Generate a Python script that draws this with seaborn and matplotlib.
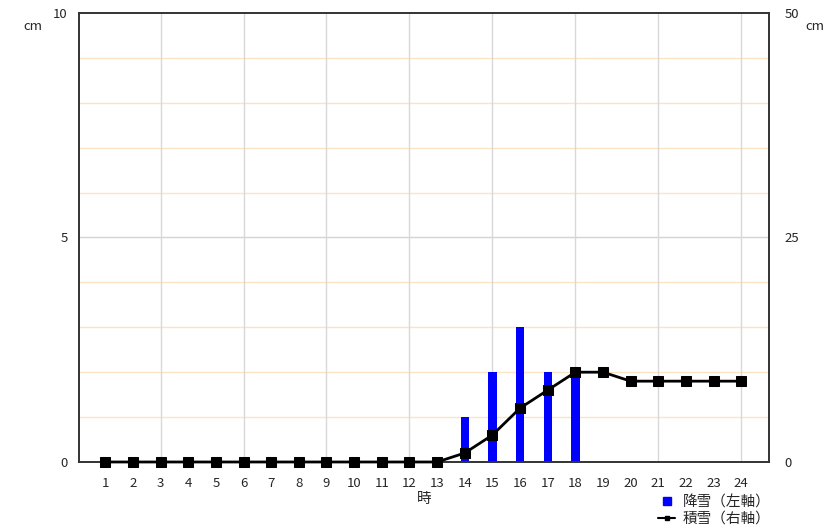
import matplotlib
matplotlib.use("Agg")
import matplotlib.pyplot as plt
import seaborn as sns
import pandas as pd
from matplotlib.lines import Line2D

sns.set_style("white")
plt.rcParams['font.family'] = ['Noto Sans CJK JP', 'DejaVu Sans']

hours = list(range(1, 25))
snowfall = [0, 0, 0, 0, 0, 0, 0, 0, 0, 0, 0, 0, 0, 1, 2, 3, 2, 2, 0, 0, 0, 0, 0, 0]
snow_depth = [0, 0, 0, 0, 0, 0, 0, 0, 0, 0, 0, 0, 0, 1, 3, 6, 8, 10, 10, 9, 9, 9, 9, 9]
left_ticks = [0, 5, 10]
right_ticks = [0, 25, 50]

df = pd.DataFrame({"hour": hours, "snowfall": snowfall, "depth": snow_depth})

fig = plt.figure(figsize=(8.34, 5.26), dpi=100)
ax = fig.add_axes([0.0947, 0.1217, 0.8273, 0.8536])

# grid
for v in range(1, 10):
    ax.axhline(v, color="#d3d3d3" if v == 5 else "#fbe3c4", lw=1, zorder=0)
for h in range(3, 25, 3):
    ax.axvline(h, color="#d8d8d8", lw=1, zorder=0)

sns.barplot(data=df, x="hour", y="snowfall", native_scale=True, color="#0000ff",
            saturation=1, width=0.3, ax=ax, zorder=2)
for p in ax.patches:
    p.set_edgecolor("none")

ax.set_xlim(0.05, 25)
ax.set_ylim(0, 10)
ax.set_xticks(hours)
ax.set_xticklabels([str(h) for h in hours], fontsize=9.5)
ax.set_yticks(left_ticks)
ax.set_yticklabels([str(t) for t in left_ticks], fontsize=9.5)
ax.set_xlabel("時", fontsize=10.5, labelpad=1)
ax.set_ylabel("")
ax.tick_params(axis="x", length=0, pad=11)
ax.tick_params(axis="y", length=0, pad=8)

ax2 = ax.twinx()
sns.lineplot(data=df, x="hour", y="depth", color="black", lw=2, marker="s",
             markersize=7, markeredgecolor="black", ax=ax2, clip_on=False, zorder=3)
ax2.set_ylim(0, 50)
ax2.set_yticks(right_ticks)
ax2.set_yticklabels([str(t) for t in right_ticks], fontsize=9.5)
ax2.set_ylabel("")
ax2.tick_params(length=0, pad=11)
ax2.set_xlim(0.05, 25)

for a in (ax, ax2):
    for s in a.spines.values():
        s.set_color("#333333")
        s.set_linewidth(1.2)

fig.text(33 / 834, 1 - 27 / 526, "cm", fontsize=9.5, ha="center", va="center")
fig.text(815 / 834, 1 - 27 / 526, "cm", fontsize=9.5, ha="center", va="center")

handles = [
    Line2D([], [], color="#0000ff", marker="s", linestyle="none", markersize=6),
    Line2D([], [], color="black", marker="s", markersize=3, lw=1.5),
]
fig.legend(handles, ["降雪（左軸）", "積雪（右軸）"], loc="upper left",
           bbox_to_anchor=(0.78, 0.072), frameon=False, fontsize=10.5,
           handlelength=1.2, handletextpad=0.5, labelspacing=0.15, borderpad=0)

fig.savefig("out.png", dpi=100)
